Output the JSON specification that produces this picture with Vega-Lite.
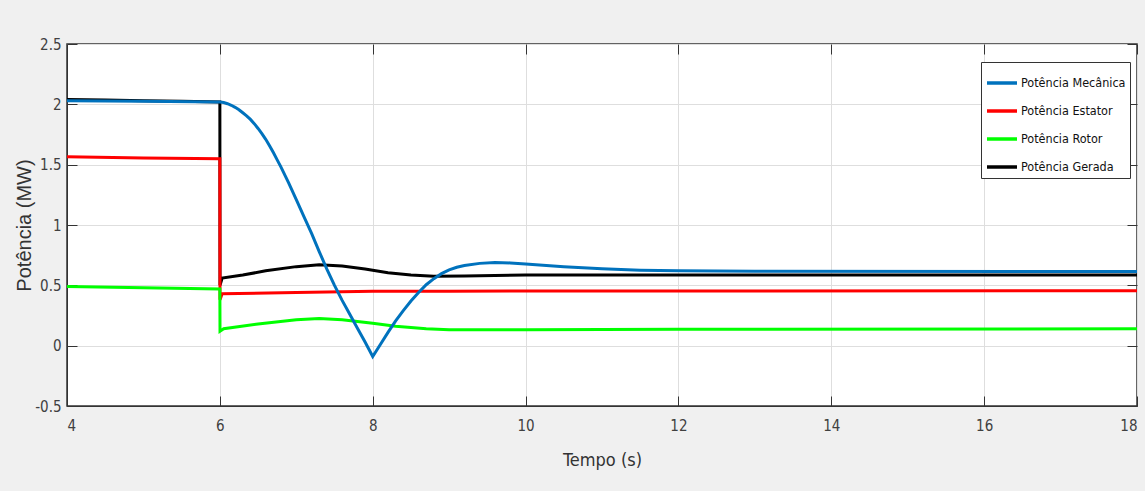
{
  "$schema": "https://vega.github.io/schema/vega-lite/v6.json",
  "autosize": {"type": "none"},
  "padding": {"left": 67, "top": 44, "right": 8, "bottom": 85},
  "width": 1070,
  "height": 362,
  "background": "#f0f0f0",
  "config": {
    "view": {"fill": "white", "stroke": "#333333", "strokeWidth": 1.5},
    "axis": {
      "grid": false,
      "domainColor": "#333333",
      "tickColor": "#333333",
      "tickSize": -10,
      "labelFont": "Liberation Sans Narrow, Arial Narrow, DejaVu Sans Condensed, Liberation Sans",
      "labelFontSize": 15,
      "labelColor": "#404040",
      "titleFont": "Liberation Sans Narrow, Arial Narrow, DejaVu Sans Condensed, Liberation Sans",
      "titleFontWeight": "normal",
      "titleColor": "#333333"
    },
    "legend": {
      "orient": "none",
      "legendX": 914,
      "legendY": 18,
      "fillColor": "white",
      "strokeColor": "#333333",
      "padding": 4,
      "symbolType": "stroke",
      "symbolStrokeWidth": 3.5,
      "symbolSize": 900,
      "labelFont": "Liberation Sans Narrow, Arial Narrow, DejaVu Sans Condensed, Liberation Sans",
      "labelFontSize": 12.5,
      "labelColor": "#111111",
      "labelOffset": 2,
      "rowPadding": 4
    }
  },
  "data": {
    "values": [
      {"s": "Potência Gerada", "t": 4, "p": 2.04},
      {"s": "Potência Gerada", "t": 4.5, "p": 2.035},
      {"s": "Potência Gerada", "t": 5, "p": 2.03},
      {"s": "Potência Gerada", "t": 5.5, "p": 2.025},
      {"s": "Potência Gerada", "t": 6, "p": 2.02},
      {"s": "Potência Gerada", "t": 6.002, "p": 0.5},
      {"s": "Potência Gerada", "t": 6.03, "p": 0.56},
      {"s": "Potência Gerada", "t": 6.3, "p": 0.585},
      {"s": "Potência Gerada", "t": 6.6, "p": 0.62},
      {"s": "Potência Gerada", "t": 7.0, "p": 0.655},
      {"s": "Potência Gerada", "t": 7.3, "p": 0.67},
      {"s": "Potência Gerada", "t": 7.6, "p": 0.66},
      {"s": "Potência Gerada", "t": 7.9, "p": 0.635},
      {"s": "Potência Gerada", "t": 8.2, "p": 0.605},
      {"s": "Potência Gerada", "t": 8.5, "p": 0.585},
      {"s": "Potência Gerada", "t": 8.8, "p": 0.575},
      {"s": "Potência Gerada", "t": 9.2, "p": 0.578},
      {"s": "Potência Gerada", "t": 10, "p": 0.585},
      {"s": "Potência Gerada", "t": 18, "p": 0.585},
      {"s": "Potência Estator", "t": 4, "p": 1.565},
      {"s": "Potência Estator", "t": 5, "p": 1.555},
      {"s": "Potência Estator", "t": 6, "p": 1.55},
      {"s": "Potência Estator", "t": 6.002, "p": 0.38},
      {"s": "Potência Estator", "t": 6.03, "p": 0.43},
      {"s": "Potência Estator", "t": 7, "p": 0.44},
      {"s": "Potência Estator", "t": 8, "p": 0.45},
      {"s": "Potência Estator", "t": 9, "p": 0.452},
      {"s": "Potência Estator", "t": 18, "p": 0.455},
      {"s": "Potência Rotor", "t": 4, "p": 0.49},
      {"s": "Potência Rotor", "t": 5, "p": 0.48},
      {"s": "Potência Rotor", "t": 6, "p": 0.47},
      {"s": "Potência Rotor", "t": 6.002, "p": 0.12},
      {"s": "Potência Rotor", "t": 6.05, "p": 0.14},
      {"s": "Potência Rotor", "t": 6.5, "p": 0.18},
      {"s": "Potência Rotor", "t": 7.0, "p": 0.215},
      {"s": "Potência Rotor", "t": 7.3, "p": 0.225},
      {"s": "Potência Rotor", "t": 7.6, "p": 0.215},
      {"s": "Potência Rotor", "t": 8.0, "p": 0.185},
      {"s": "Potência Rotor", "t": 8.3, "p": 0.16},
      {"s": "Potência Rotor", "t": 8.7, "p": 0.14},
      {"s": "Potência Rotor", "t": 9, "p": 0.132},
      {"s": "Potência Rotor", "t": 10, "p": 0.132},
      {"s": "Potência Rotor", "t": 12, "p": 0.136},
      {"s": "Potência Rotor", "t": 18, "p": 0.14},
      {"s": "Potência Mecânica", "t": 4, "p": 2.03},
      {"s": "Potência Mecânica", "t": 5, "p": 2.025},
      {"s": "Potência Mecânica", "t": 6, "p": 2.02},
      {"s": "Potência Mecânica", "t": 6.05, "p": 2.015},
      {"s": "Potência Mecânica", "t": 6.1, "p": 2.005},
      {"s": "Potência Mecânica", "t": 6.15, "p": 1.992},
      {"s": "Potência Mecânica", "t": 6.2, "p": 1.975},
      {"s": "Potência Mecânica", "t": 6.25, "p": 1.955},
      {"s": "Potência Mecânica", "t": 6.3, "p": 1.93},
      {"s": "Potência Mecânica", "t": 6.35, "p": 1.905},
      {"s": "Potência Mecânica", "t": 6.4, "p": 1.875},
      {"s": "Potência Mecânica", "t": 6.45, "p": 1.84},
      {"s": "Potência Mecânica", "t": 6.5, "p": 1.8},
      {"s": "Potência Mecânica", "t": 6.55, "p": 1.757},
      {"s": "Potência Mecânica", "t": 6.6, "p": 1.71},
      {"s": "Potência Mecânica", "t": 6.65, "p": 1.657},
      {"s": "Potência Mecânica", "t": 6.7, "p": 1.6},
      {"s": "Potência Mecânica", "t": 6.75, "p": 1.54},
      {"s": "Potência Mecânica", "t": 6.8, "p": 1.48},
      {"s": "Potência Mecânica", "t": 6.9, "p": 1.35},
      {"s": "Potência Mecânica", "t": 7.0, "p": 1.21},
      {"s": "Potência Mecânica", "t": 7.1, "p": 1.07},
      {"s": "Potência Mecânica", "t": 7.2, "p": 0.93},
      {"s": "Potência Mecânica", "t": 7.3, "p": 0.78},
      {"s": "Potência Mecânica", "t": 7.4, "p": 0.635},
      {"s": "Potência Mecânica", "t": 7.5, "p": 0.5},
      {"s": "Potência Mecânica", "t": 7.6, "p": 0.375},
      {"s": "Potência Mecânica", "t": 7.7, "p": 0.26},
      {"s": "Potência Mecânica", "t": 7.8, "p": 0.145},
      {"s": "Potência Mecânica", "t": 7.9, "p": 0.03},
      {"s": "Potência Mecânica", "t": 8.0, "p": -0.09},
      {"s": "Potência Mecânica", "t": 8.1, "p": 0.01},
      {"s": "Potência Mecânica", "t": 8.2, "p": 0.11},
      {"s": "Potência Mecânica", "t": 8.3, "p": 0.205},
      {"s": "Potência Mecânica", "t": 8.4, "p": 0.29},
      {"s": "Potência Mecânica", "t": 8.5, "p": 0.37},
      {"s": "Potência Mecânica", "t": 8.6, "p": 0.44},
      {"s": "Potência Mecânica", "t": 8.7, "p": 0.505},
      {"s": "Potência Mecânica", "t": 8.8, "p": 0.555},
      {"s": "Potência Mecânica", "t": 8.9, "p": 0.597},
      {"s": "Potência Mecânica", "t": 9.0, "p": 0.628},
      {"s": "Potência Mecânica", "t": 9.1, "p": 0.65},
      {"s": "Potência Mecânica", "t": 9.2, "p": 0.665},
      {"s": "Potência Mecânica", "t": 9.4, "p": 0.682},
      {"s": "Potência Mecânica", "t": 9.6, "p": 0.69},
      {"s": "Potência Mecânica", "t": 9.8, "p": 0.686},
      {"s": "Potência Mecânica", "t": 10.0, "p": 0.677},
      {"s": "Potência Mecânica", "t": 10.5, "p": 0.655},
      {"s": "Potência Mecânica", "t": 11.0, "p": 0.637},
      {"s": "Potência Mecânica", "t": 11.5, "p": 0.626},
      {"s": "Potência Mecânica", "t": 12.0, "p": 0.62},
      {"s": "Potência Mecânica", "t": 13.0, "p": 0.616},
      {"s": "Potência Mecânica", "t": 18.0, "p": 0.615}
    ]
  },
  "resolve": {"axis": {"x": "independent", "y": "independent"}},
  "layer": [
    {
      "transform": [{"filter": "datum.s === 'Potência Gerada'"}],
      "mark": {"type": "line", "strokeWidth": 3, "clip": true},
      "encoding": {
        "x": {"field": "t", "type": "quantitative", "scale": {"domain": [4, 18], "nice": false, "zero": false},
              "axis": {"values": [4, 6, 8, 10, 12, 14, 16, 18], "grid": true, "gridColor": "#dedede", "labelPadding": 22, "labelExpr": "toString(datum.value)", "title": "Tempo (s)", "titleFontSize": 18, "titlePadding": 18}},
        "y": {"field": "p", "type": "quantitative", "scale": {"domain": [-0.5, 2.5], "nice": false, "zero": false},
              "axis": {"values": [-0.5, 0, 0.5, 1, 1.5, 2, 2.5], "grid": true, "gridColor": "#dedede", "labelPadding": 16, "labelExpr": "toString(datum.value)", "title": "Potência (MW)", "titleFont": "Liberation Sans", "titleFontSize": 20, "titlePadding": 0}},
        "color": {"field": "s", "type": "nominal", "title": null,
                  "scale": {"domain": ["Potência Mecânica", "Potência Estator", "Potência Rotor", "Potência Gerada"], "range": ["#0072BD", "#FF0000", "#00FF00", "#000000"]}}
      }
    },
    {
      "transform": [{"filter": "datum.s === 'Potência Estator'"}],
      "mark": {"type": "line", "strokeWidth": 3, "clip": true},
      "encoding": {
        "x": {"field": "t", "type": "quantitative", "axis": {"orient": "top", "values": [4, 6, 8, 10, 12, 14, 16, 18], "labels": false, "title": null, "domain": false}},
        "y": {"field": "p", "type": "quantitative", "axis": {"orient": "right", "values": [-0.5, 0, 0.5, 1, 1.5, 2, 2.5], "labels": false, "title": null, "domain": false}},
        "color": {"field": "s", "type": "nominal"}
      }
    },
    {
      "transform": [{"filter": "datum.s === 'Potência Rotor'"}],
      "mark": {"type": "line", "strokeWidth": 3, "clip": true},
      "encoding": {
        "x": {"field": "t", "type": "quantitative", "axis": null},
        "y": {"field": "p", "type": "quantitative", "axis": null},
        "color": {"field": "s", "type": "nominal"}
      }
    },
    {
      "transform": [{"filter": "datum.s === 'Potência Mecânica'"}],
      "mark": {"type": "line", "strokeWidth": 3, "clip": true},
      "encoding": {
        "x": {"field": "t", "type": "quantitative", "axis": null},
        "y": {"field": "p", "type": "quantitative", "axis": null},
        "color": {"field": "s", "type": "nominal"}
      }
    }
  ]
}
